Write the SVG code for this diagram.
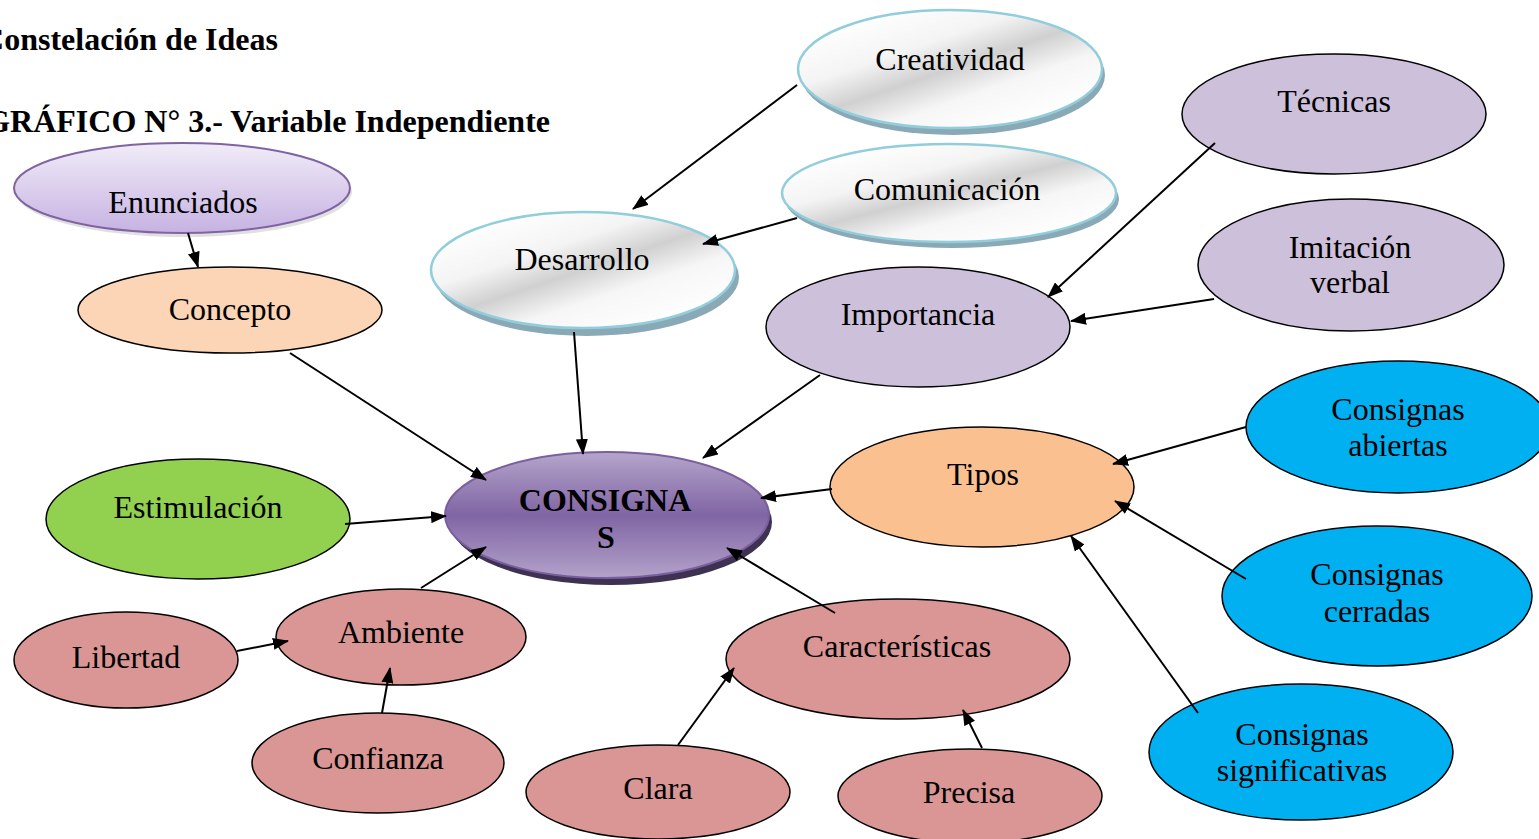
<svg xmlns="http://www.w3.org/2000/svg" width="1539" height="839" viewBox="0 0 1539 839">
<style>
text{font-family:"Liberation Serif","Times New Roman",serif;font-size:32px;fill:#000;text-anchor:middle}
.title{font-weight:bold;text-anchor:end;font-size:32px}
.bold{font-weight:bold}
.n{stroke:#000;stroke-width:1.5}
.conn line{stroke:#000;stroke-width:2;marker-end:url(#ah)}
.silver{fill:url(#gSilver);stroke:#92CDDC;stroke-width:2.5}
.silverSh{fill:#8AA9B6}
</style>
<defs>
<marker id="ah" markerUnits="userSpaceOnUse" markerWidth="16" markerHeight="12" refX="15" refY="6" orient="auto">
<path d="M0,0 L16,6 L0,12 z" fill="#000"/>
</marker>
<linearGradient id="gEnun" x1="0" y1="0" x2="0" y2="1">
<stop offset="0" stop-color="#F1ECF8"/>
<stop offset="1" stop-color="#C6B2E2"/>
</linearGradient>
<linearGradient id="gSilver" x1="0.15" y1="0.1" x2="0.85" y2="0.9">
<stop offset="0" stop-color="#FFFFFF"/>
<stop offset="0.3" stop-color="#F4F4F4"/>
<stop offset="0.5" stop-color="#D0D0D0"/>
<stop offset="0.7" stop-color="#F6F6F6"/>
<stop offset="1" stop-color="#FFFFFF"/>
</linearGradient>
<linearGradient id="gCons" x1="0" y1="0" x2="0" y2="1">
<stop offset="0" stop-color="#B5A5CB"/>
<stop offset="0.5" stop-color="#8065A4"/>
<stop offset="1" stop-color="#B3A2C9"/>
</linearGradient>
</defs>

<text class="title" x="278" y="50">Constelación de Ideas</text>
<text class="title" x="550" y="132">GRÁFICO N° 3.- Variable Independiente</text>

<g id="enunciados">
<ellipse cx="184" cy="192" rx="168" ry="45" fill="#000" opacity="0.12"/>
<ellipse cx="182" cy="188" rx="168" ry="45" fill="url(#gEnun)" stroke="#8064A2" stroke-width="2"/>
<text x="183" y="213">Enunciados</text>
</g>
<g id="concepto">
<ellipse class="n" cx="230" cy="310" rx="152" ry="43" fill="#FBD5B5"/>
<text x="230" y="320">Concepto</text>
</g>
<g id="desarrollo">
<ellipse class="silverSh" cx="587" cy="277" rx="152" ry="59"/>
<ellipse class="silver" cx="583" cy="270" rx="152" ry="58"/>
<text x="582" y="270">Desarrollo</text>
</g>
<g id="creatividad">
<ellipse class="silverSh" cx="953" cy="75" rx="152" ry="60"/>
<ellipse class="silver" cx="950" cy="69" rx="152" ry="59"/>
<text x="950" y="70">Creatividad</text>
</g>
<g id="comunicacion">
<ellipse class="silverSh" cx="952" cy="199" rx="167" ry="49"/>
<ellipse class="silver" cx="949" cy="193" rx="167" ry="49"/>
<text x="947" y="200">Comunicación</text>
</g>
<g id="tecnicas">
<ellipse class="n" cx="1334" cy="114" rx="152" ry="60" fill="#CCC0DA"/>
<text x="1334" y="112">Técnicas</text>
</g>
<g id="imitacion">
<ellipse class="n" cx="1351" cy="265" rx="153" ry="66" fill="#CCC0DA"/>
<text x="1350" y="258">Imitación</text>
<text x="1350" y="293">verbal</text>
</g>
<g id="importancia">
<ellipse class="n" cx="918" cy="327" rx="152" ry="60" fill="#CCC0DA"/>
<text x="918" y="325">Importancia</text>
</g>
<g id="consignas">
<ellipse cx="611" cy="522" rx="161" ry="63" fill="#3F3151"/>
<ellipse cx="607" cy="515" rx="162" ry="63" fill="url(#gCons)" stroke="#7A5FA0" stroke-width="2"/>
<text class="bold" x="605" y="511">CONSIGNA</text>
<text class="bold" x="606" y="548">S</text>
</g>
<g id="estimulacion">
<ellipse class="n" cx="198" cy="519" rx="152" ry="60" fill="#92D050"/>
<text x="198" y="518">Estimulación</text>
</g>
<g id="tipos">
<ellipse class="n" cx="982" cy="487" rx="152" ry="60" fill="#FAC090"/>
<text x="983" y="485">Tipos</text>
</g>
<g id="consignas-abiertas">
<ellipse class="n" cx="1398" cy="427" rx="152" ry="66" fill="#00B0F0"/>
<text x="1398" y="420">Consignas</text>
<text x="1398" y="456">abiertas</text>
</g>
<g id="consignas-cerradas">
<ellipse class="n" cx="1377" cy="596" rx="155" ry="70" fill="#00B0F0"/>
<text x="1377" y="585">Consignas</text>
<text x="1377" y="622">cerradas</text>
</g>
<g id="consignas-significativas">
<ellipse class="n" cx="1301" cy="752" rx="152" ry="68" fill="#00B0F0"/>
<text x="1302" y="745">Consignas</text>
<text x="1302" y="781">significativas</text>
</g>
<g id="libertad">
<ellipse class="n" cx="126" cy="660" rx="112" ry="48" fill="#D99694"/>
<text x="126" y="668">Libertad</text>
</g>
<g id="ambiente">
<ellipse class="n" cx="401" cy="637" rx="125" ry="48" fill="#D99694"/>
<text x="401" y="643">Ambiente</text>
</g>
<g id="confianza">
<ellipse class="n" cx="378" cy="763" rx="126" ry="50" fill="#D99694"/>
<text x="378" y="769">Confianza</text>
</g>
<g id="caracteristicas">
<ellipse class="n" cx="898" cy="659" rx="172" ry="60" fill="#D99694"/>
<text x="897" y="657">Características</text>
</g>
<g id="clara">
<ellipse class="n" cx="658" cy="792" rx="132" ry="47" fill="#D99694"/>
<text x="658" y="799">Clara</text>
</g>
<g id="precisa">
<ellipse class="n" cx="970" cy="796" rx="132" ry="47" fill="#D99694"/>
<text x="969" y="803">Precisa</text>
</g>

<g id="conectores" class="conn">
<line x1="188" y1="233" x2="198" y2="267"/>
<line x1="290" y1="353" x2="486" y2="480"/>
<line x1="797" y1="85" x2="633" y2="209"/>
<line x1="797" y1="218" x2="703" y2="244"/>
<line x1="574" y1="332" x2="583" y2="454"/>
<line x1="1215" y1="143" x2="1048" y2="297"/>
<line x1="1214" y1="299" x2="1071" y2="321"/>
<line x1="820" y1="375" x2="703" y2="458"/>
<line x1="345" y1="524" x2="446" y2="516"/>
<line x1="832" y1="489" x2="761" y2="498"/>
<line x1="1246" y1="427" x2="1113" y2="464"/>
<line x1="1246" y1="579" x2="1115" y2="501"/>
<line x1="1198" y1="713" x2="1071" y2="536"/>
<line x1="835" y1="613" x2="727" y2="548"/>
<line x1="421" y1="588" x2="486" y2="547"/>
<line x1="237" y1="651" x2="288" y2="641"/>
<line x1="382" y1="713" x2="390" y2="668"/>
<line x1="678" y1="745" x2="734" y2="668"/>
<line x1="982" y1="748" x2="963" y2="710"/>
</g>
</svg>
